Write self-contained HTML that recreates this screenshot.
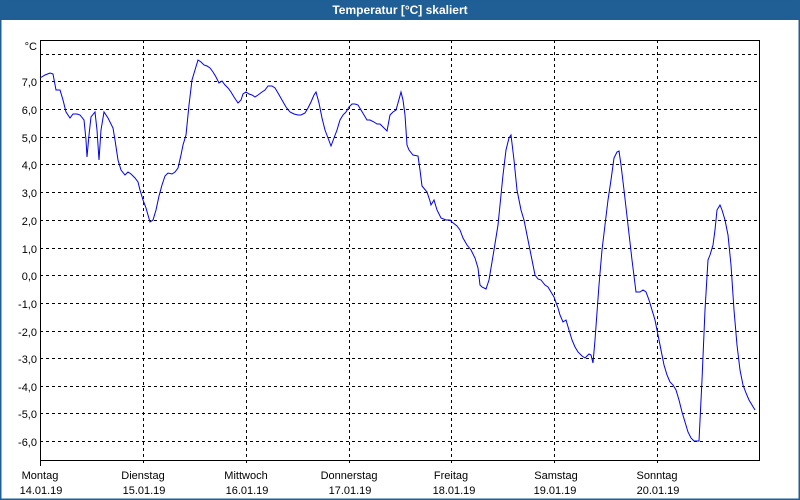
<!DOCTYPE html>
<html><head><meta charset="utf-8"><style>
html,body{margin:0;padding:0;width:800px;height:500px;overflow:hidden;background:#fff;}
</style></head><body>
<svg width="800" height="500" xmlns="http://www.w3.org/2000/svg" font-family="Liberation Sans, sans-serif">
<rect x="0" y="0" width="800" height="500" fill="#fff"/>
<rect x="0" y="0" width="800" height="20" fill="#1f5f96"/>
<rect x="0.75" y="0" width="798.5" height="499.25" fill="none" stroke="#1f5f96" stroke-width="1.5"/>
<text x="400" y="14" text-anchor="middle" fill="#fff" font-size="12" font-weight="bold">Temperatur [°C] skaliert</text>
<g stroke="#000" stroke-width="1" stroke-dasharray="3,3">
<line x1="40" y1="54.5" x2="760" y2="54.5"/>
<line x1="40" y1="81.5" x2="760" y2="81.5"/>
<line x1="40" y1="109.5" x2="760" y2="109.5"/>
<line x1="40" y1="137.5" x2="760" y2="137.5"/>
<line x1="40" y1="164.5" x2="760" y2="164.5"/>
<line x1="40" y1="192.5" x2="760" y2="192.5"/>
<line x1="40" y1="220.5" x2="760" y2="220.5"/>
<line x1="40" y1="248.5" x2="760" y2="248.5"/>
<line x1="40" y1="275.5" x2="760" y2="275.5"/>
<line x1="40" y1="303.5" x2="760" y2="303.5"/>
<line x1="40" y1="331.5" x2="760" y2="331.5"/>
<line x1="40" y1="358.5" x2="760" y2="358.5"/>
<line x1="40" y1="386.5" x2="760" y2="386.5"/>
<line x1="40" y1="413.5" x2="760" y2="413.5"/>
<line x1="40" y1="441.5" x2="760" y2="441.5"/>
<line x1="143.5" y1="40" x2="143.5" y2="466"/>
<line x1="246.5" y1="40" x2="246.5" y2="466"/>
<line x1="349.5" y1="40" x2="349.5" y2="466"/>
<line x1="451.5" y1="40" x2="451.5" y2="466"/>
<line x1="554.5" y1="40" x2="554.5" y2="466"/>
<line x1="657.5" y1="40" x2="657.5" y2="466"/>
</g>
<polyline fill="none" stroke="#000" stroke-width="1" points="40.5,466 40.5,40.5 759.5,40.5 759.5,460.5 40,460.5"/>
<polyline fill="none" stroke="#0000ee" stroke-width="1" points="40,78 45,75 50,73 53,74 56,90 60,90 63,100 66,112 70,118 73,114 77,114 80,115 84,120 86,140 87,157 89,135 91,117 95,112 97,130 99,160 101,130 104,112 108,118 113,128 115,140 118,160 121,170 125,175 128,172 131,174 135,178 138,182 140,190 143,200 146,208 150,222 153,220 156,210 159,196 162,185 165,176 168,173 172,174 175,172 178,168 181,155 183,145 186,135 189,105 192,80 195,70 198,60 201,62 204,65 207,66 210,68 213,72 216,77 219,83 222,81 225,85 228,88 231,92 234,97 238,103 241,100 243,94 246,92 249,94 252,95 255,97 258,95 262,92 265,90 268,86 272,86 275,88 278,93 282,100 286,107 290,112 294,114 298,115 301,115 305,113 308,108 311,102 314,95 316,92 319,103 322,118 325,130 328,138 331,146 334,138 337,130 340,120 343,115 346,112 349,107 352,104 355,104 358,105 361,110 364,115 367,120 370,120 374,122 377,124 380,124 387,131 390,115 393,112 396,110 398,103 401,92 403,100 405,115 407,145 409,150 413,155 418,156 420,170 422,186 427,192 430,201 431,205 434,200 437,210 441,218 446,220 450,220 452,222 457,226 460,230 463,238 467,245 471,250 475,258 478,268 480,285 482,287 486,289 489,280 494,250 498,225 501,195 503,175 506,150 509,138 511,135 514,160 517,190 521,210 524,220 527,235 530,250 532,260 535,275 538,279 541,280 545,285 548,287 551,292 554,297 558,308 560,315 563,322 566,320 569,330 572,340 575,347 578,352 582,356 585,358 589,354 591,355 593,363 595,340 599,285 602,250 605,225 608,200 611,180 614,158 617,152 619,151 621,165 624,190 628,225 632,260 634,276 636,292 640,292 643,290 646,292 649,300 652,310 655,320 658,335 661,350 664,365 667,375 670,382 673,385 676,390 679,400 682,412 685,422 688,432 691,438 694,441 697,441 699,441 702,380 705,310 708,260 710,255 713,245 715,230 717,210 720,205 722,210 725,220 728,235 731,265 734,310 737,345 740,370 743,385 746,393 749,400 752,405 755,410"/>
<g font-size="11" fill="#000" text-anchor="end">
<text x="37" y="50">°C</text>
<text x="37" y="86">7,0</text>
<text x="37" y="114">6,0</text>
<text x="37" y="142">5,0</text>
<text x="37" y="169">4,0</text>
<text x="37" y="197">3,0</text>
<text x="37" y="225">2,0</text>
<text x="37" y="253">1,0</text>
<text x="37" y="280">0,0</text>
<text x="37" y="308">-1,0</text>
<text x="37" y="336">-2,0</text>
<text x="37" y="363">-3,0</text>
<text x="37" y="391">-4,0</text>
<text x="37" y="418">-5,0</text>
<text x="37" y="446">-6,0</text>
</g>
<g font-size="11" fill="#000" text-anchor="middle">
<text x="40" y="479">Montag</text><text x="41" y="494">14.01.19</text>
<text x="143" y="479">Dienstag</text><text x="144" y="494">15.01.19</text>
<text x="246" y="479">Mittwoch</text><text x="247" y="494">16.01.19</text>
<text x="349" y="479">Donnerstag</text><text x="350" y="494">17.01.19</text>
<text x="451" y="479">Freitag</text><text x="454" y="494">18.01.19</text>
<text x="556" y="479">Samstag</text><text x="555" y="494">19.01.19</text>
<text x="657" y="479">Sonntag</text><text x="658" y="494">20.01.19</text>
</g>
</svg>
</body></html>
